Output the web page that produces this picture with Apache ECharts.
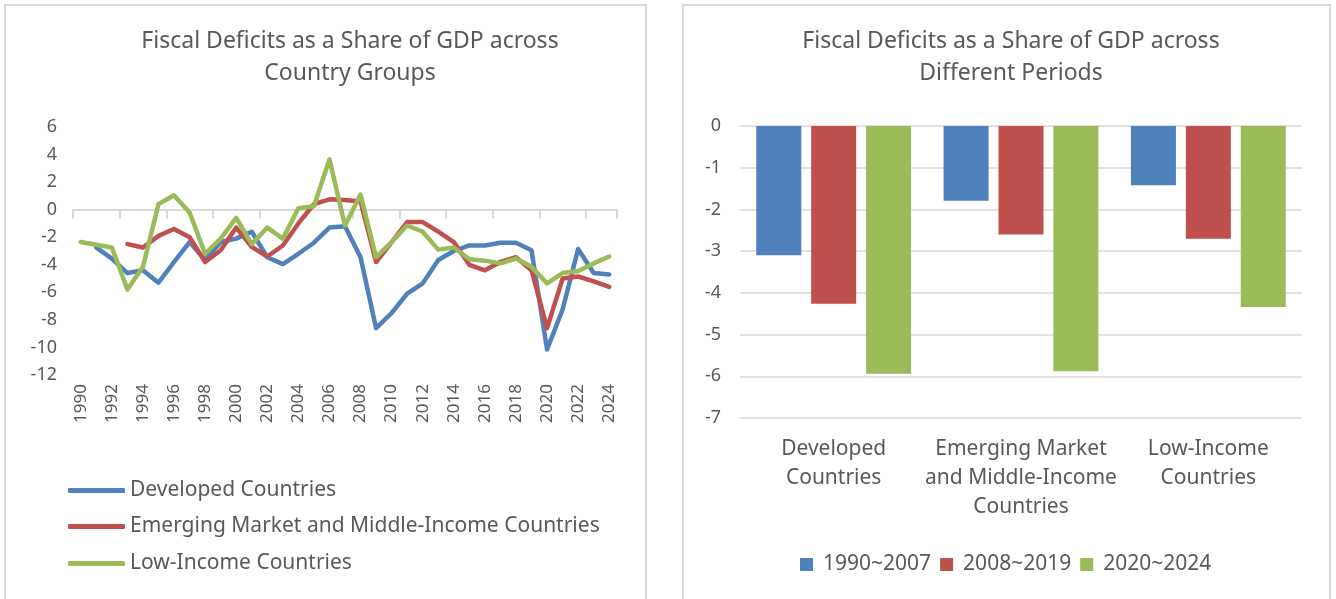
<!DOCTYPE html>
<html>
<head>
<meta charset="utf-8">
<script src="https://cdn.jsdelivr.net/npm/echarts@6/dist/echarts.min.js"></script>
<style>
html,body{margin:0;padding:0;background:#fff;}
#c{width:1336px;height:599px;}
</style>
</head>
<body>
<div id="c"></div>
<script>
// ---- Data ----
const years = ['1990','1991','1992','1993','1994','1995','1996','1997','1998','1999','2000','2001','2002','2003','2004','2005','2006','2007','2008','2009','2010','2011','2012','2013','2014','2015','2016','2017','2018','2019','2020','2021','2022','2023','2024'];
const developed = [null,-2.75,-3.55,-4.6,-4.4,-5.3,-3.8,-2.35,-3.65,-2.35,-2.1,-1.6,-3.45,-3.95,-3.2,-2.4,-1.3,-1.2,-3.45,-8.6,-7.5,-6.1,-5.35,-3.65,-3.0,-2.6,-2.6,-2.4,-2.4,-2.95,-10.15,-7.25,-2.85,-4.6,-4.7];
const emerging = [null,null,null,-2.5,-2.75,-1.9,-1.4,-2.0,-3.8,-2.95,-1.3,-2.7,-3.4,-2.6,-1.0,0.4,0.75,0.7,0.6,-3.8,-2.35,-0.9,-0.9,-1.6,-2.35,-4.0,-4.4,-3.8,-3.45,-4.4,-8.6,-5.0,-4.85,-5.2,-5.6];
const lowIncome = [-2.35,-2.55,-2.75,-5.8,-4.15,0.4,1.05,-0.2,-3.2,-2.1,-0.6,-2.5,-1.3,-2.1,0.1,0.25,3.65,-1.15,1.1,-3.45,-2.35,-1.15,-1.6,-2.9,-2.75,-3.6,-3.7,-3.9,-3.55,-4.15,-5.35,-4.6,-4.45,-3.9,-3.4];
const lineNames = ['Developed Countries','Emerging Market and Middle-Income Countries','Low-Income Countries'];

const groupLabels = ['Developed\nCountries','Emerging Market\nand Middle-Income\nCountries','Low-Income\nCountries'];
const periods = ['1990~2007','2008~2019','2020~2024'];
const p1990 = [-3.1,-1.79,-1.42];
const p2008 = [-4.26,-2.6,-2.7];
const p2020 = [-5.94,-5.88,-4.34];

const leftTicks = {min:-12,max:6,interval:2};
const rightTicks = {min:-7,max:0,interval:1};

// ---- Styles ----
const BLUE='#4F81BD', RED='#C0504D', GREEN='#9BBB59';
const TXT='#595959';
const FONT='"Noto Sans", sans-serif';

const chart = echarts.init(document.getElementById('c'), null, {renderer:'canvas'});

const lineSeries = [developed, emerging, lowIncome].map((d,i)=>({
  name: lineNames[i], type:'line', xAxisIndex:0, yAxisIndex:0,
  data: d, symbol:'none', connectNulls:false,
  lineStyle:{width:4.5, color:[BLUE,RED,GREEN][i], cap:'round', join:'round'},
  itemStyle:{color:[BLUE,RED,GREEN][i]}
}));

const barSeries = [p1990,p2008,p2020].map((d,i)=>({
  name: periods[i], type:'bar', xAxisIndex:2, yAxisIndex:1,
  data:d, barWidth:45, barGap:'22%',
  itemStyle:{color:[BLUE,RED,GREEN][i]}
}));

const legTxt = {fontFamily:FONT,fontSize:21,color:TXT};

const option = {
  animation:false,
  backgroundColor:'#fff',
  textStyle:{fontFamily:FONT},
  graphic:[
    {type:'rect', shape:{x:5,y:5,width:641,height:640}, style:{fill:'none',stroke:'#d9d9d9',lineWidth:2}},
    {type:'rect', shape:{x:683,y:5,width:647,height:640}, style:{fill:'none',stroke:'#d9d9d9',lineWidth:2}}
  ],
  title:[
    {text:'Fiscal Deficits as a Share of GDP across\nCountry Groups', left:345, textAlign:'center', top:20,
     textStyle:{fontFamily:FONT, fontSize:23, fontWeight:'normal', color:TXT, lineHeight:32}},
    {text:'Fiscal Deficits as a Share of GDP across\nDifferent Periods', left:1006, textAlign:'center', top:20,
     textStyle:{fontFamily:FONT, fontSize:23, fontWeight:'normal', color:TXT, lineHeight:32}}
  ],
  legend:[
    {data:[lineNames[0]], left:63, top:475, icon:'roundRect', itemWidth:57, itemHeight:5, textStyle:legTxt},
    {data:[lineNames[1]], left:63, top:511, icon:'roundRect', itemWidth:57, itemHeight:5, textStyle:legTxt},
    {data:[lineNames[2]], left:63, top:548, icon:'roundRect', itemWidth:57, itemHeight:5, textStyle:legTxt},
    {data:periods, left:795, top:549, icon:'rect', itemWidth:13, itemHeight:13, itemGap:9,
     textStyle:{fontFamily:FONT,fontSize:21,color:TXT,padding:[0,0,0,5]}}
  ],
  grid:[
    {left:73, right:719, top:127, bottom:224, containLabel:false},
    {left:740, right:34, top:126, bottom:181, containLabel:false}
  ],
  xAxis:[
    {type:'category', gridIndex:0, data:years, boundaryGap:true, position:'bottom',
     axisLine:{onZero:true, lineStyle:{color:'#d9d9d9', width:2}},
     axisTick:{show:true, length:9, lineStyle:{color:'#d9d9d9', width:2}},
     axisLabel:{show:false}},
    {type:'category', gridIndex:0, data:years, boundaryGap:true, position:'bottom',
     axisLine:{show:false, onZero:false}, axisTick:{show:false},
     axisLabel:{show:true, interval:1, rotate:90, margin:9, fontFamily:FONT, fontSize:17, color:TXT}},
    {type:'category', gridIndex:1, data:groupLabels, position:'bottom',
     axisLine:{show:false, onZero:false}, axisTick:{show:false},
     axisLabel:{interval:0, margin:17, fontFamily:FONT, fontSize:21, color:TXT, lineHeight:29}}
  ],
  yAxis:[
    {type:'value', gridIndex:0, min:leftTicks.min, max:leftTicks.max, interval:leftTicks.interval,
     axisLine:{show:false}, axisTick:{show:false}, splitLine:{show:false},
     axisLabel:{margin:16, fontFamily:FONT, fontSize:18, color:TXT}},
    {type:'value', gridIndex:1, min:rightTicks.min, max:rightTicks.max, interval:rightTicks.interval,
     axisLine:{show:false}, axisTick:{show:false},
     splitLine:{show:true, lineStyle:{color:'#d9d9d9', width:1.5}},
     axisLabel:{margin:19, fontFamily:FONT, fontSize:18, color:TXT}}
  ],
  series: lineSeries.concat(barSeries)
};
chart.setOption(option);
</script>
</body>
</html>
